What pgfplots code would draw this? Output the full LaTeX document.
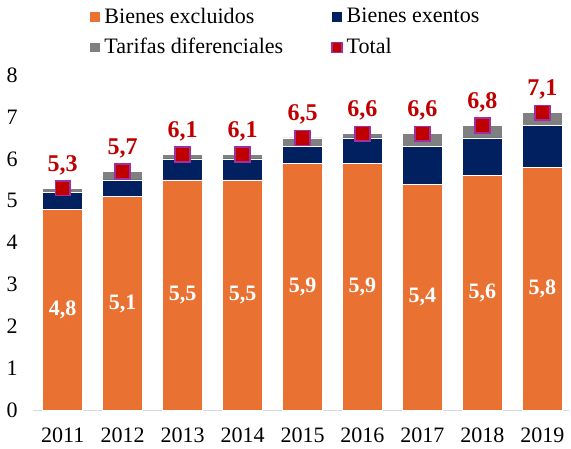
\documentclass[border=0pt]{standalone}
\usepackage{pgfplots}
\pgfplotsset{compat=1.18}
\usepackage{fontspec}
\setmainfont{Liberation Serif}

\definecolor{naranja}{RGB}{233,113,50}
\definecolor{azul}{RGB}{0,32,96}
\definecolor{gris}{RGB}{128,128,128}
\definecolor{rojo}{RGB}{192,0,0}
\definecolor{borde}{RGB}{160,48,160}

\pgfplotsset{
  base/.style={
    width=268pt, height=167.5pt, scale only axis,
    xmin=-0.5, xmax=8.45, ymin=0, ymax=8,
    xtick={0,...,8},
    xticklabels={2011,2012,2013,2014,2015,2016,2017,2018,2019},
    ytick={0,...,8},
    major tick length=0pt,
    tick label style={font=\fontsize{11}{13}\selectfont},
    /pgf/number format/assume math mode=true,
    axis line style={draw=none},
  }
}

\begin{document}
\begin{tikzpicture}
\begin{axis}[base,
    ybar stacked, bar width=20pt,
    axis x line*=bottom, axis y line*=left,
    x axis line style={draw=gray!30, line width=0.8pt},
    y axis line style={draw=none},
    xticklabel style={yshift=-5pt},
    yticklabel style={xshift=-4pt},
    legend columns=2,
    legend style={at={(0.093,1.225)}, anchor=north west, draw=none, fill=none,
      font=\fontsize{11}{13}\selectfont,
      /tikz/every even column/.append style={column sep=22pt},
      row sep=2pt, cells={anchor=west}},
    legend image code/.code={\fill[#1] (0pt,-2.6pt) rectangle (5.4pt,2.8pt);},
  ]
  \addplot[fill=naranja, draw=white, line width=0.3pt] coordinates
    {(0,4.8) (1,5.1) (2,5.5) (3,5.5) (4,5.9) (5,5.9) (6,5.4) (7,5.6) (8,5.8)};
  \addplot[fill=azul, draw=white, line width=0.3pt] coordinates
    {(0,0.4) (1,0.4) (2,0.5) (3,0.5) (4,0.4) (5,0.6) (6,0.9) (7,0.9) (8,1.0)};
  \addplot[fill=gris, draw=white, line width=0.3pt] coordinates
    {(0,0.1) (1,0.2) (2,0.1) (3,0.1) (4,0.2) (5,0.1) (6,0.3) (7,0.3) (8,0.3)};
  \addlegendimage{legend image code/.code={\draw[fill=rojo, draw=borde, line width=0.8pt] (0.3pt,-2.4pt) rectangle (5.1pt,2.6pt);}}
  \legend{Bienes excluidos, Bienes exentos, Tarifas diferenciales, Total}
\end{axis}
\begin{axis}[base, hide axis,
    nodes near coords,
    /pgf/number format/.cd, use comma, fixed, fixed zerofill, precision=1,
  ]
  % etiquetas blancas de bienes excluidos
  \addplot[only marks, mark=none, point meta=explicit,
    nodes near coords style={anchor=center, text=white,
      font=\fontsize{11}{13}\selectfont\bfseries}]
    coordinates {(0,2.4)[4.8] (1,2.55)[5.1] (2,2.75)[5.5] (3,2.75)[5.5] (4,2.95)[5.9]
                 (5,2.95)[5.9] (6,2.7)[5.4] (7,2.8)[5.6] (8,2.9)[5.8]};
  % total
  \addplot[only marks, mark=square*, mark size=3.7pt,
    mark options={fill=rojo, draw=borde, line width=0.8pt},
    nodes near coords style={anchor=south, yshift=3pt, text=rojo,
      font=\fontsize{12}{14}\selectfont\bfseries}]
    coordinates {(0,5.3) (1,5.7) (2,6.1) (3,6.1) (4,6.5) (5,6.6) (6,6.6) (7,6.8) (8,7.1)};
\end{axis}
\end{tikzpicture}
\end{document}
